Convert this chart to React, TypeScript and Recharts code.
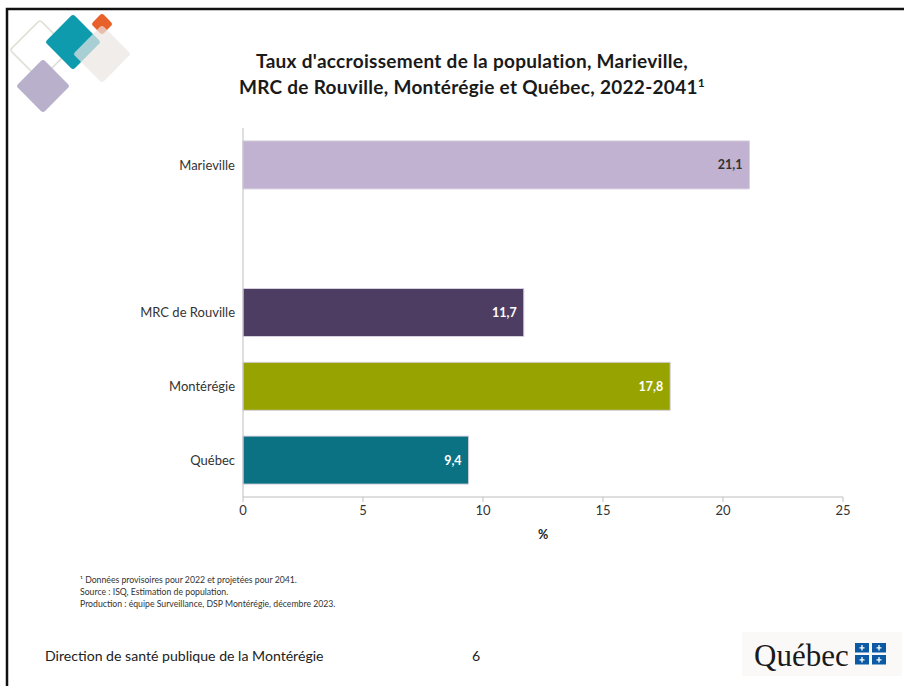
import React from 'react';
import { Bar, BarChart, Cell, LabelList, XAxis, YAxis } from 'recharts';

const regions = ['Marieville', '', 'MRC de Rouville', 'Montérégie', 'Québec'];
const rates: (number | null)[] = [21.1, null, 11.7, 17.8, 9.4];
const barColors = ['#C0B2D0', '#FFFFFF', '#4E3D63', '#96A300', '#0A7282'];
const valueColors = ['#333333', '#FFFFFF', '#FFFFFF', '#FFFFFF', '#FFFFFF'];
const xTicks = [0, 5, 10, 15, 20, 25];

const titleLines = [
  "Taux d'accroissement de la population, Marieville,",
  'MRC de Rouville, Montérégie et Québec, 2022-2041',
];

const notes = [
  '¹ Données provisoires pour 2022 et projetées pour 2041.',
  'Source : ISQ, Estimation de population.',
  'Production : équipe Surveillance, DSP Montérégie, décembre 2023.',
];

const font = 'Lato, "Open Sans", sans-serif';

const chartData = regions.map((region, i) => ({ region, rate: rates[i] }));

const fmt = (v: number) => v.toFixed(1).replace('.', ',');

const ValueLabel = (props: any) => {
  const { x, y, width, height, value, index } = props;
  if (value == null) return null;
  return (
    <text
      x={x + width - 7}
      y={y + height / 2}
      textAnchor="end"
      dominantBaseline="central"
      fill={valueColors[index]}
      fontSize={12.5}
      fontWeight={700}
      fontFamily={font}
    >
      {fmt(value)}
    </text>
  );
};

const Diamond = ({ cx, cy, r, fill, stroke, opacity }: any) => (
  <rect
    x={cx - r / Math.SQRT2}
    y={cy - r / Math.SQRT2}
    width={r * Math.SQRT2}
    height={r * Math.SQRT2}
    rx={3}
    fill={fill}
    stroke={stroke}
    strokeWidth={stroke ? 1.5 : 0}
    opacity={opacity}
    transform={`rotate(45 ${cx} ${cy})`}
  />
);

const Flag = ({ x, y }: { x: number; y: number }) => (
  <g>
    <rect x={x} y={y} width={14} height={9.5} fill="#0B5AA3" />
    <path d={`M${x + 7} ${y + 2} v5.5 M${x + 4.5} ${y + 4.8} h5`} stroke="#fff" strokeWidth={1.3} />
  </g>
);

export default function App() {
  return (
    <div style={{ position: 'absolute', left: 0, top: 0, width: 904, height: 686, background: '#fff', overflow: 'hidden' }}>
      <svg width={904} height={686} style={{ position: 'absolute', left: 0, top: 0 }}>
        {/* slide frame */}
        <rect x={7} y={9} width={910} height={700} fill="none" stroke="#111" strokeWidth={2.5} />

        {/* corner logo */}
        <Diamond cx={40} cy={50} r={30} fill="none" stroke="#DDE2D6" />
        <Diamond cx={43} cy={86} r={27} fill="#B9B0CB" />
        <Diamond cx={73} cy={42} r={28} fill="#0E9BAD" />
        <Diamond cx={102} cy={24} r={11} fill="#E8602A" />
        <Diamond cx={102} cy={54} r={29} fill="#E9E5E3" opacity={0.7} />

        {/* footnotes */}
        {notes.map((n, i) => (
          <text key={i} x={80} y={583 + i * 12} fontSize={8.7} fill="#333" fontFamily={font}>
            {n}
          </text>
        ))}

        {/* footer */}
        <text x={45} y={661} fontSize={14.1} fill="#222" fontFamily={font}>
          Direction de santé publique de la Montérégie
        </text>
        <text x={472} y={661} fontSize={14.1} fill="#222" fontFamily={font}>
          6
        </text>

        {/* Québec signature */}
        <rect x={742} y={632} width={160} height={44} fill="#FAF9F8" />
        <text x={754} y={666} fontSize={31} fill="#1A1A1A" fontFamily='"Liberation Serif", serif'>
          Québec
        </text>
        <Flag x={855} y={643} />
        <Flag x={872} y={643} />
        <Flag x={855} y={655} />
        <Flag x={872} y={655} />
      </svg>

      <div
        style={{
          position: 'absolute',
          left: 0,
          top: 48,
          width: 944,
          textAlign: 'center',
          fontFamily: font,
          fontWeight: 700,
          fontSize: 19,
          letterSpacing: 0.3,
          lineHeight: '26px',
          color: '#1a1a1a',
        }}
      >
        <div>{titleLines[0]}</div>
        <div>
          {titleLines[1]}
          <sup style={{ fontSize: 12, lineHeight: 0 }}>1</sup>
        </div>
      </div>

      <div style={{ position: 'absolute', left: 0, top: 0 }}>
        <BarChart
          width={904}
          height={560}
          data={chartData}
          layout="vertical"
          margin={{ top: 128, right: 61, left: 0, bottom: 0 }}
          barCategoryGap="17.5%"
        >
          <XAxis
            type="number"
            domain={[0, 25]}
            ticks={xTicks}
            height={63}
            tickSize={5}
            tickMargin={4}
            axisLine={{ stroke: '#BFBFBF' }}
            tickLine={{ stroke: '#BFBFBF' }}
            tick={{ fill: '#333', fontSize: 13, fontFamily: font }}
            label={{ value: '%', position: 'insideBottom', offset: 21, fill: '#222', fontSize: 12.5, fontWeight: 700, fontFamily: font }}
          />
          <YAxis
            type="category"
            dataKey="region"
            width={243}
            tickSize={0}
            tickMargin={8}
            axisLine={{ stroke: '#BFBFBF' }}
            tickLine={false}
            tick={{ fill: '#333', fontSize: 13, fontFamily: font }}
          />
          <Bar dataKey="rate" isAnimationActive={false} stroke="#D6D0DE" strokeWidth={1}>
            {chartData.map((d, i) => (
              <Cell key={d.region + i} fill={barColors[i]} />
            ))}
            <LabelList dataKey="rate" content={ValueLabel} />
          </Bar>
        </BarChart>
      </div>
    </div>
  );
}
